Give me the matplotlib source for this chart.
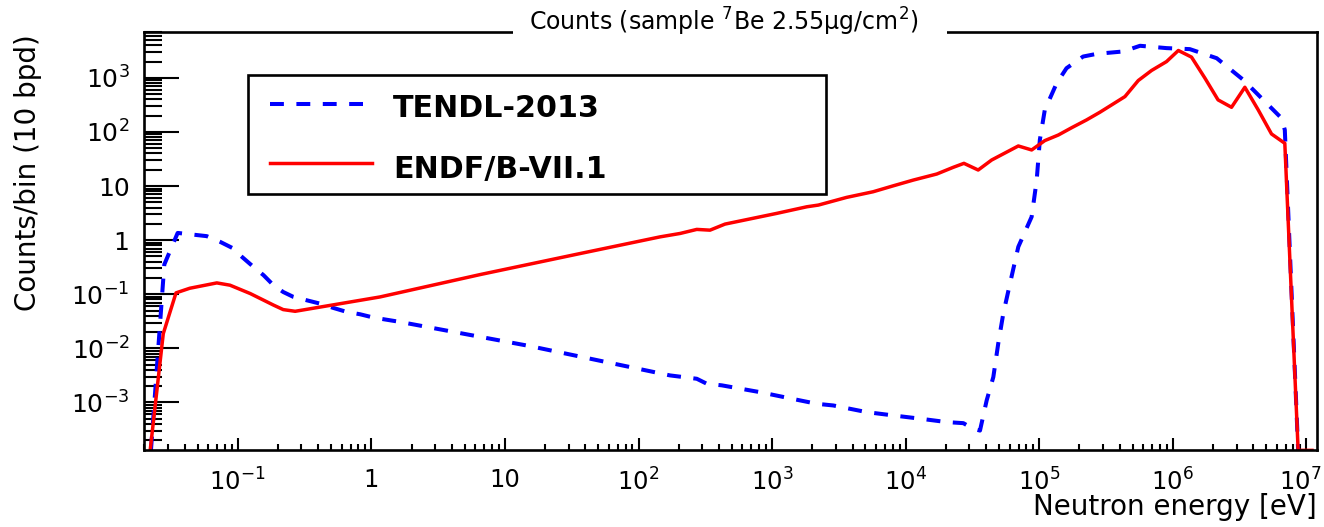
import matplotlib
matplotlib.use("Agg")
import matplotlib.pyplot as plt
from matplotlib.ticker import FixedLocator, LogLocator, FuncFormatter, NullFormatter
from matplotlib.patches import Rectangle
from matplotlib.lines import Line2D
from matplotlib.transforms import ScaledTranslation

plt.rcParams['font.family'] = ['DejaVu Sans']
plt.rcParams['mathtext.fontset'] = 'dejavusans'
plt.rcParams['lines.scale_dashes'] = False

# ---------------- data ----------------
tendl_E = [0.0224, 0.0282, 0.0355, 0.0586, 0.0738, 0.0927, 0.104, 0.131, 0.156,
           0.185, 0.219, 0.261, 0.328, 0.413, 0.520, 0.655, 0.822, 1.04, 1.64,
           15.4, 172, 273, 324, 420, 811, 1620, 2160, 2870, 5110, 8070, 12800,
           20300, 27000, 32100, 36000, 40400, 45300, 49300, 53800, 60400, 69700,
           87700, 95700, 101000, 110000, 135000, 160000, 213000, 269000, 426000,
           568000, 897000, 1.34e6, 2.13e6, 3.37e6, 4.49e6, 6.52e6, 6.89e6, 8.67e6]
tendl_C = [1.3e-4, 0.355, 1.36, 1.186, 0.931, 0.702, 0.527, 0.321, 0.225,
           0.147, 0.110, 0.0893, 0.0774, 0.0671, 0.0558, 0.0471, 0.0427, 0.037, 0.0308,
           0.0110, 0.00316, 0.00274, 0.00222, 0.00207, 0.00155, 0.00109, 0.000944,
           0.000879, 0.000662, 0.000575, 0.000501, 0.000433, 0.000414, 0.000325,
           0.000302, 0.00109, 0.00294, 0.0122, 0.044, 0.158, 0.753,
           2.70, 12.9, 71.1, 255, 796, 1510, 2480, 2780, 3080,
           3920, 3550, 3400, 2310, 918, 451, 179, 109, 1.3e-4]

endf_E = [0.0221, 0.0277, 0.0345, 0.0437, 0.0697, 0.0875, 0.124, 0.185, 0.219,
          0.269, 1.16, 6.52, 36.6, 145, 205, 273, 343, 444, 1080, 1820, 2220,
          3610, 5710, 8070, 11400, 17100, 22700, 27300, 34900, 44000, 69700,
          87700, 110000, 139000, 175000, 226000, 284000, 348000, 438000, 551000,
          693000, 897000, 1.10e6, 1.38e6, 1.74e6, 2.18e6, 2.75e6, 3.46e6, 4.36e6,
          5.48e6, 6.89e6, 8.67e6, 1.10e7]
endf_C = [1.3e-4, 0.0187, 0.106, 0.129, 0.162, 0.147, 0.103, 0.0631, 0.052,
          0.0484, 0.0891, 0.231, 0.566, 1.15, 1.33, 1.58, 1.53, 1.98, 3.12, 4.14, 4.45,
          6.17, 7.85, 10.1, 12.9, 16.7, 22.2, 26.3, 19.8, 30.3, 55.1,
          46.5, 69.2, 87.9, 120, 167, 231, 316, 451, 893,
          1370, 2000, 3210, 2420, 986, 392, 286, 671, 255,
          91.8, 61.7, 1.3e-4, 1.3e-4]

x_major = [1e-1, 1, 10, 1e2, 1e3, 1e4, 1e5, 1e6, 1e7]
y_major = [1e-3, 1e-2, 1e-1, 1, 10, 1e2, 1e3]
series_labels = ["TENDL-2013", "ENDF/B-VII.1"]
title = r"Counts (sample $\mathregular{^{7}}$Be 2.55μg/cm$\mathregular{^{2}}$)"
xlabel = "Neutron energy [eV]"
ylabel = "Counts/bin (10 bpd)"

# ---------------- figure ----------------
W, H = 1324, 527
fig = plt.figure(figsize=(W / 100, H / 100), dpi=100)

def fx(px):
    return px / W

def fy(py):
    return 1 - py / H

ax = fig.add_axes([fx(143.5), fy(450), fx(1317) - fx(143.5), fy(31.5) - fy(450)])
ax.set_xscale('log')
ax.set_yscale('log')
ax.set_xlim(0.0197, 1.2e7)
ax.set_ylim(1.32e-4, 7.2e3)

BLUE = (0, 0, 1)
RED = (1, 0, 0)
DASH = (10, 9)
ax.plot(tendl_E, tendl_C, color=BLUE, lw=2.9, dashes=DASH)
ax.plot(endf_E, endf_C, color=RED, lw=2.5)

def fmt(v, pos):
    import math
    e = int(round(math.log10(v)))
    if e == 0:
        return "1"
    if e == 1:
        return "10"
    return r"$\mathregular{10^{%d}}$" % e

ax.xaxis.set_major_locator(FixedLocator(x_major))
ax.yaxis.set_major_locator(FixedLocator(y_major))
ax.xaxis.set_minor_locator(LogLocator(base=10, subs=range(2, 10), numticks=60))
ax.yaxis.set_minor_locator(LogLocator(base=10, subs=range(2, 10), numticks=60))
ax.xaxis.set_major_formatter(FuncFormatter(fmt))
ax.yaxis.set_major_formatter(FuncFormatter(fmt))
ax.xaxis.set_minor_formatter(NullFormatter())
ax.yaxis.set_minor_formatter(NullFormatter())

ax.tick_params(which='both', direction='in', top=False, right=False, width=1.5, color='black')
ax.tick_params(axis='x', which='major', length=8.6, pad=13, labelsize=17.5)
ax.tick_params(axis='x', which='minor', length=4.5)
ax.tick_params(axis='y', which='major', length=25, pad=10, labelsize=18)
ax.tick_params(axis='y', which='minor', length=13)
for s in ax.spines.values():
    s.set_linewidth(1.9)

# keep the last x tick label (10^7) inside the picture
fig.canvas.draw()
last_lab = ax.xaxis.get_major_ticks()[-1].label1
last_lab.set_transform(last_lab.get_transform() + ScaledTranslation(-0.06, 0, fig.dpi_scale_trans))

# title box covering the top frame line
fig.add_artist(Rectangle((fx(513), fy(42)), fx(947) - fx(513), fy(3) - fy(42),
                         transform=fig.transFigure, facecolor='white', edgecolor='none', zorder=5))
fig.text(fx(724), fy(22), title, ha='center', va='center', fontsize=17, zorder=6)

# axis titles
fig.text(fx(1317), fy(507), xlabel, ha='right', va='center', fontsize=20)
fig.text(fx(28), fy(34), ylabel, rotation=90, ha='center', va='top', fontsize=20)

# legend
fig.add_artist(Rectangle((fx(248), fy(194)), fx(826) - fx(248), fy(75) - fy(194),
                         transform=fig.transFigure, facecolor='white', edgecolor='black',
                         lw=1.9, zorder=5))
fig.add_artist(Line2D([fx(270), fx(363)], [fy(104)] * 2, transform=fig.transFigure,
                      color=BLUE, lw=2.9, dashes=DASH, zorder=6))
fig.add_artist(Line2D([fx(270), fx(372)], [fy(163)] * 2, transform=fig.transFigure,
                      color=RED, lw=2.5, zorder=6))
fig.text(fx(393), fy(117), series_labels[0], fontsize=21.7, fontweight='bold',
         va='baseline', ha='left', zorder=7)
fig.text(fx(393), fy(178), series_labels[1], fontsize=21.7, fontweight='bold',
         va='baseline', ha='left', zorder=7)

fig.savefig("out.png", dpi=100)
